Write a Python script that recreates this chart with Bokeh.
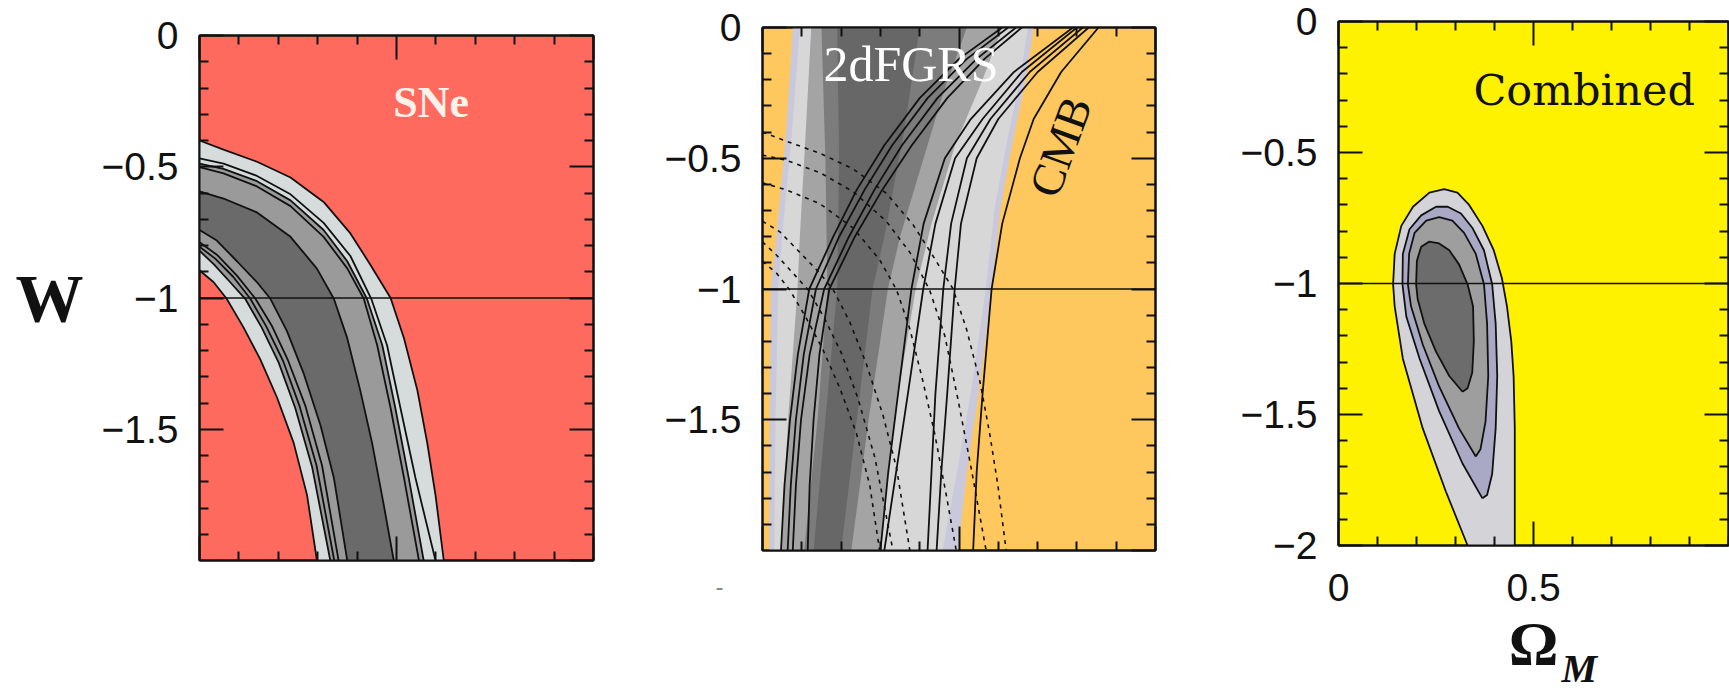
from bokeh.plotting import figure
from bokeh.layouts import row, column
from bokeh.models import (Range1d, LinearAxis, FixedTicker, CustomJSTickFormatter, Span, Label, Spacer,
                          Title)
from bokeh.embed import file_html
from bokeh.resources import INLINE

# ---------------- data (Omega_M, w) ----------------
# Panel 1 : SNe contours
sne_o1_om = [0.0, 0.061, 0.146, 0.231, 0.315, 0.383, 0.434, 0.485, 0.519, 0.553, 0.578, 0.599, 0.620]
sne_o1_w = [-0.40, -0.435, -0.481, -0.541, -0.634, -0.754, -0.874, -1.0, -1.153, -1.352, -1.552, -1.751, -2.0]
sne_x2_om = [0.0, 0.061, 0.146, 0.231, 0.315, 0.383, 0.436, 0.476, 0.510, 0.548, 0.599]
sne_x2_w = [-0.468, -0.488, -0.535, -0.605, -0.714, -0.840, -1.003, -1.18, -1.419, -1.685, -2.0]
sne_o2_om = [0.0, 0.061, 0.146, 0.231, 0.315, 0.375, 0.425, 0.464, 0.497, 0.531, 0.569]
sne_o2_w = [-0.488, -0.508, -0.555, -0.628, -0.741, -0.860, -1.003, -1.18, -1.419, -1.685, -2.0]
sne_x1_om = [0.0, 0.061, 0.146, 0.231, 0.315, 0.375, 0.417, 0.451, 0.485, 0.519, 0.557]
sne_x1_w = [-0.501, -0.525, -0.575, -0.650, -0.767, -0.887, -1.003, -1.18, -1.419, -1.685, -2.0]
sne_o3_om = [0.0, 0.061, 0.146, 0.231, 0.298, 0.341, 0.375, 0.408, 0.438, 0.468, 0.493]
sne_o3_w = [-0.594, -0.621, -0.674, -0.767, -0.888, -1.003, -1.153, -1.352, -1.552, -1.791, -2.0]
sne_i3_om = [0.0, 0.044, 0.095, 0.146, 0.180, 0.222, 0.264, 0.307, 0.341, 0.375]
sne_i3_w = [-0.741, -0.781, -0.860, -0.940, -1.003, -1.126, -1.286, -1.485, -1.685, -2.0]
sne_x5_om = [0.0, 0.044, 0.095, 0.142, 0.184, 0.225, 0.269, 0.311, 0.353]
sne_x5_w = [-0.788, -0.835, -0.915, -1.003, -1.107, -1.239, -1.412, -1.638, -2.0]
sne_x3_om = [0.0, 0.040, 0.086, 0.129, 0.169, 0.212, 0.254, 0.297, 0.342]
sne_x3_w = [-0.805, -0.850, -0.920, -1.003, -1.107, -1.239, -1.412, -1.638, -2.0]
sne_i2_om = [0.0, 0.036, 0.078, 0.116, 0.158, 0.201, 0.243, 0.286, 0.332]
sne_i2_w = [-0.820, -0.871, -0.940, -1.003, -1.113, -1.246, -1.419, -1.645, -2.0]
sne_i1_om = [0.0, 0.036, 0.069, 0.112, 0.154, 0.197, 0.239, 0.273, 0.298]
sne_i1_w = [-0.894, -0.940, -1.003, -1.113, -1.233, -1.380, -1.552, -1.751, -2.0]

# Panel 2 : 2dFGRS shaded regions (left edge and right edge, top to bottom)
gr_env_l = ([0.077, 0.06, 0.035, 0.021, 0.018, 0.017], [0.0, -0.4, -0.8, -1.0, -1.5, -2.0])
gr_env_r = ([0.69, 0.67, 0.635, 0.605, 0.583, 0.55, 0.52, 0.498], [0.0, -0.2, -0.45, -0.7, -1.0, -1.4, -1.7, -2.0])
gr_lt_l = ([0.095, 0.075, 0.05, 0.04, 0.033, 0.03], [0.0, -0.4, -0.8, -1.0, -1.5, -2.0])
gr_lt_r = ([0.675, 0.655, 0.62, 0.59, 0.568, 0.53, 0.495, 0.458], [0.0, -0.2, -0.45, -0.7, -1.0, -1.4, -1.7, -2.0])
gr_md_l = ([0.124, 0.11, 0.095, 0.089, 0.065, 0.047], [0.0, -0.4, -0.8, -1.0, -1.5, -2.0])
gr_md_r = ([0.61, 0.56, 0.49, 0.43, 0.39, 0.345, 0.32, 0.302], [0.0, -0.2, -0.45, -0.75, -1.0, -1.4, -1.7, -2.0])
gr_dk_l = ([0.15, 0.16, 0.165, 0.14, 0.106], [0.0, -0.5, -1.0, -1.5, -2.0])
gr_dk_r = ([0.52, 0.46, 0.40, 0.35, 0.319, 0.27, 0.226], [0.0, -0.25, -0.55, -0.8, -1.0, -1.5, -2.0])
gr_dd_l = ([0.19, 0.195, 0.19, 0.16, 0.13], [0.0, -0.5, -1.0, -1.5, -2.0])
gr_dd_r = ([0.40, 0.36, 0.31, 0.28, 0.24, 0.20], [0.0, -0.4, -0.8, -1.0, -1.5, -2.0])

# Panel 2 : CMB solid contours
cmb_w9 = [0.0, -0.12, -0.27, -0.45, -0.62, -0.80, -1.0, -1.25, -1.5, -1.75, -2.0]
cmb_l1 = [0.61, 0.50, 0.40, 0.31, 0.24, 0.18, 0.119, 0.09, 0.07, 0.056, 0.047]
cmb_l2 = [0.625, 0.52, 0.42, 0.33, 0.26, 0.195, 0.136, 0.105, 0.085, 0.072, 0.064]
cmb_l3 = [0.645, 0.545, 0.445, 0.355, 0.285, 0.22, 0.157, 0.12, 0.098, 0.085, 0.077]
cmb_l4 = [0.66, 0.565, 0.47, 0.38, 0.305, 0.235, 0.17, 0.145, 0.13, 0.12, 0.115]
cmb_wr = [0.0, -0.17, -0.35, -0.5, -0.75, -1.0, -1.4, -1.7, -2.0]
cmb_r1 = [0.855, 0.76, 0.69, 0.655, 0.61, 0.583, 0.56, 0.545, 0.536]
cmb_r2 = [0.83, 0.70, 0.60, 0.545, 0.505, 0.489, 0.47, 0.455, 0.443]
cmb_r2b = [0.815, 0.68, 0.58, 0.52, 0.48, 0.46, 0.44, 0.43, 0.42]
cmb_r3 = [0.80, 0.66, 0.56, 0.49, 0.44, 0.409, 0.37, 0.34, 0.31]
cmb_r4 = [0.79, 0.64, 0.53, 0.464, 0.41, 0.379, 0.345, 0.32, 0.30]

# Panel 3 : combined contours
cb_lt_om = [0.331, 0.275, 0.216, 0.165, 0.144, 0.140, 0.144, 0.161, 0.191, 0.233, 0.271, 0.305, 0.335,
            0.369, 0.398, 0.419, 0.432, 0.443, 0.449, 0.452, 0.452]
cb_lt_w = [-2.0, -1.793, -1.553, -1.287, -1.087, -1.003, -0.887, -0.780, -0.707, -0.653, -0.640, -0.653, -0.700,
           -0.780, -0.873, -0.980, -1.087, -1.220, -1.353, -1.553, -2.0]
cb_a_om = [0.369, 0.318, 0.258, 0.208, 0.174, 0.164, 0.165, 0.182, 0.212, 0.25, 0.280, 0.314, 0.343,
           0.373, 0.394, 0.403, 0.407, 0.403, 0.394, 0.381]
cb_a_w = [-1.82, -1.687, -1.487, -1.287, -1.127, -1.003, -0.887, -0.793, -0.740, -0.707, -0.707, -0.733, -0.787,
          -0.873, -1.003, -1.153, -1.353, -1.553, -1.727, -1.807]
cb_b_om = [0.352, 0.309, 0.258, 0.216, 0.186, 0.178, 0.181, 0.195, 0.225, 0.258, 0.292, 0.322, 0.352,
           0.373, 0.381, 0.384, 0.377, 0.364]
cb_b_w = [-1.66, -1.553, -1.393, -1.233, -1.087, -1.003, -0.887, -0.807, -0.760, -0.747, -0.760, -0.807, -0.887,
          -1.003, -1.153, -1.353, -1.527, -1.633]
cb_d_om = [0.318, 0.284, 0.25, 0.220, 0.203, 0.199, 0.201, 0.212, 0.233, 0.258, 0.284, 0.309, 0.331,
           0.345, 0.347, 0.343, 0.331]
cb_d_w = [-1.413, -1.353, -1.26, -1.153, -1.06, -1.003, -0.913, -0.860, -0.840, -0.847, -0.873, -0.927, -1.003,
          -1.087, -1.22, -1.34, -1.40]

w_lambda = -1.0

y_major = [0.0, -0.5, -1.0, -1.5, -2.0]
y_major_lab = [0.0, -0.5, -1.0, -1.5]
y_minor = [round(-0.1 * i, 1) for i in range(1, 20) if i % 5]
x_major = [0.0, 0.5, 1.0]
x_major_lab = [0.0, 0.5]
x_minor = [round(0.1 * i, 1) for i in range(1, 10) if i != 5]

INK = "#111111"
TICK_FONT = "Liberation Sans"


def band(a_om, a_w, b_om, b_w):
    return a_om + b_om[::-1], a_w + b_w[::-1]


def region(left, right):
    return left[0] + right[0][::-1], left[1] + right[1][::-1]


def style_axis(ax, ticks, minors, labels):
    ax.ticker = FixedTicker(ticks=ticks, minor_ticks=minors)
    ax.major_tick_in = 24
    ax.major_tick_out = 0
    ax.minor_tick_in = 9
    ax.minor_tick_out = 0
    ax.major_tick_line_width = 2
    ax.minor_tick_line_width = 2
    ax.major_tick_line_color = INK
    ax.minor_tick_line_color = INK
    ax.axis_line_width = 2
    ax.axis_line_color = INK
    if labels:
        ax.formatter = CustomJSTickFormatter(
            code="return (tick == 0) ? '0' : tick.toString().replace('-', '\\u2212');")
        ax.major_label_text_font = TICK_FONT
        ax.major_label_text_font_size = "39px"
        ax.major_label_text_color = INK
        ax.major_label_standoff = 21
    else:
        ax.major_label_text_font_size = "0px"
        ax.major_label_text_color = None
        ax.major_label_standoff = 0


def make_fig(fw, fh, left, right, top, bottom, bg, xlabels=False, ylab_ticks=None):
    p = figure(width=left + fw + right, height=top + fh + bottom,
               frame_width=fw, frame_height=fh,
               min_border_left=left, min_border_right=right,
               min_border_top=top, min_border_bottom=bottom,
               x_range=Range1d(0, 1), y_range=Range1d(-2, 0),
               toolbar_location=None, output_backend="svg",
               background_fill_color=bg, border_fill_color="white",
               outline_line_color=INK, outline_line_width=2)
    p.xgrid.visible = False
    p.ygrid.visible = False
    style_axis(p.left[0], ylab_ticks, y_minor, True)
    if xlabels:
        style_axis(p.below[0], x_major_lab, x_minor + [1.0], True)
        p.below[0].major_label_standoff = 28
    else:
        style_axis(p.below[0], x_major, x_minor, False)
    top_ax = LinearAxis()
    style_axis(top_ax, x_major, x_minor, False)
    p.add_layout(top_ax, "above")
    right_ax = LinearAxis()
    style_axis(right_ax, y_major, y_minor, False)
    p.add_layout(right_ax, "right")
    return p


def lines(p, curves, dash="solid", width=1.8):
    for om, w in curves:
        p.line(om, w, line_color=INK, line_width=width, line_dash=dash)


TOP = 21  # common top border; panels 1 and 2 are pushed down by spacers

# ---------------- panel 1 : SNe ----------------
p1 = make_fig(394, 525, 199, 37, TOP, 136, "#FF6A5E", ylab_ticks=y_major_lab)
xs, ys = band(sne_o1_om, sne_o1_w, sne_i1_om, sne_i1_w)
p1.patch(xs, ys, fill_color="#D6DCDC", line_color=None)
xs, ys = band(sne_o2_om, sne_o2_w, sne_i2_om, sne_i2_w)
p1.patch(xs, ys, fill_color="#9A9A9A", line_color=None)
xs, ys = band(sne_o3_om, sne_o3_w, sne_i3_om, sne_i3_w)
p1.patch(xs, ys, fill_color="#6A6A6A", line_color=None)
sne_curves = [(sne_o1_om, sne_o1_w), (sne_x2_om, sne_x2_w), (sne_o2_om, sne_o2_w), (sne_x1_om, sne_x1_w),
              (sne_o3_om, sne_o3_w), (sne_i3_om, sne_i3_w), (sne_x5_om, sne_x5_w), (sne_x3_om, sne_x3_w),
              (sne_i2_om, sne_i2_w), (sne_i1_om, sne_i1_w)]
lines(p1, sne_curves)
p1.add_layout(Span(location=w_lambda, dimension="width", line_color=INK, line_width=1.6))
p1.add_layout(Label(x=0.492, y=-0.255, text="SNe", text_font="Liberation Serif", text_font_style="bold",
                    text_font_size="44px", text_color="#FFF2EA", text_baseline="alphabetic"))
yax = p1.left[0]
yax.axis_label = "W"
yax.axis_label_text_font = "Liberation Serif"
yax.axis_label_text_font_style = "bold"
yax.axis_label_text_font_size = "68px"
yax.axis_label_text_color = INK
yax.axis_label_standoff = 15
yax.axis_label_orientation = "horizontal"

# ---------------- panel 2 : 2dFGRS + CMB ----------------
p2 = make_fig(393, 523, 132, 43, TOP, 146, "#FFC85E", ylab_ticks=y_major_lab)
for (l, r), col in [((gr_env_l, gr_env_r), "#C9C9DB"), ((gr_lt_l, gr_lt_r), "#D7D7D7"),
                    ((gr_md_l, gr_md_r), "#A4A4A4"), ((gr_dk_l, gr_dk_r), "#7C7C7C"),
                    ((gr_dd_l, gr_dd_r), "#676767")]:
    xs, ys = region(l, r)
    p2.patch(xs, ys, fill_color=col, line_color=None)
lines(p2, [(c, cmb_w9) for c in (cmb_l1, cmb_l2, cmb_l3, cmb_l4)])
lines(p2, [(c, cmb_wr) for c in (cmb_r1, cmb_r2, cmb_r2b, cmb_r3, cmb_r4)])
lines(p2, [(sne_o1_om, sne_o1_w), (sne_o2_om, sne_o2_w), (sne_o3_om, sne_o3_w),
           (sne_i3_om, sne_i3_w), (sne_i2_om, sne_i2_w), (sne_i1_om, sne_i1_w)], dash="4 5", width=1.6)
p2.add_layout(Span(location=w_lambda, dimension="width", line_color=INK, line_width=1.6))
p2.add_layout(Label(x=0.155, y=-0.141, text="2dFGRS", text_font="Liberation Serif",
                    text_font_size="50px", text_color="white", text_baseline="alphabetic"))
p2.add_layout(Label(x=0.758, y=-0.456, text="CMB", text_font="Liberation Serif", text_font_size="46px",
                    text_color=INK, text_align="center", text_baseline="middle", angle=1.22))
p2.add_layout(Title(text="-", align="left", offset=-47, standoff=50, text_font=TICK_FONT,
                    text_font_size="24px", text_font_style="normal", text_color="#888888"), "below")

# ---------------- panel 3 : combined ----------------
p3 = make_fig(390, 524, 140, 1, TOP, 151, "#FFF200", xlabels=True, ylab_ticks=y_major)
p3.patch(cb_lt_om, cb_lt_w, fill_color="#D4D4D8", line_color=None)
p3.patch(cb_a_om, cb_a_w, fill_color="#A9A9C6", line_color=None)
p3.patch(cb_b_om, cb_b_w, fill_color="#9E9E9E", line_color=None)
p3.patch(cb_d_om, cb_d_w, fill_color="#6C6C6C", line_color=None)
lines(p3, [(cb_lt_om, cb_lt_w), (cb_a_om + cb_a_om[:1], cb_a_w + cb_a_w[:1]),
           (cb_b_om + cb_b_om[:1], cb_b_w + cb_b_w[:1]), (cb_d_om + cb_d_om[:1], cb_d_w + cb_d_w[:1])])
p3.add_layout(Span(location=w_lambda, dimension="width", line_color=INK, line_width=1.6))
p3.add_layout(Label(x=0.346, y=-0.263, text="Combined", text_font="DejaVu Serif",
                    text_font_size="43px", text_color=INK, text_baseline="alphabetic"))
xax = p3.below[0]
xax.axis_label = "Ω"
xax.axis_label_text_font = "Liberation Serif"
xax.axis_label_text_font_style = "bold"
xax.axis_label_text_font_size = "62px"
xax.axis_label_text_color = INK
xax.axis_label_standoff = 5
# subscript of the x-axis title, kept in a side panel so that it is not clipped by the frame
p3.add_layout(Label(x=0.572, y=-2.47, text="M", text_font="Liberation Serif",
                    text_font_style="bold italic", text_font_size="40px", text_color=INK,
                    text_baseline="alphabetic"), "left")

col1 = column(Spacer(width=630, height=14), p1, spacing=0)
col2 = column(Spacer(width=568, height=6), p2, spacing=0)
layout = row(col1, col2, p3, spacing=0)
with open("out.html", "w", encoding="utf-8") as f:
    f.write(file_html(layout, INLINE))
